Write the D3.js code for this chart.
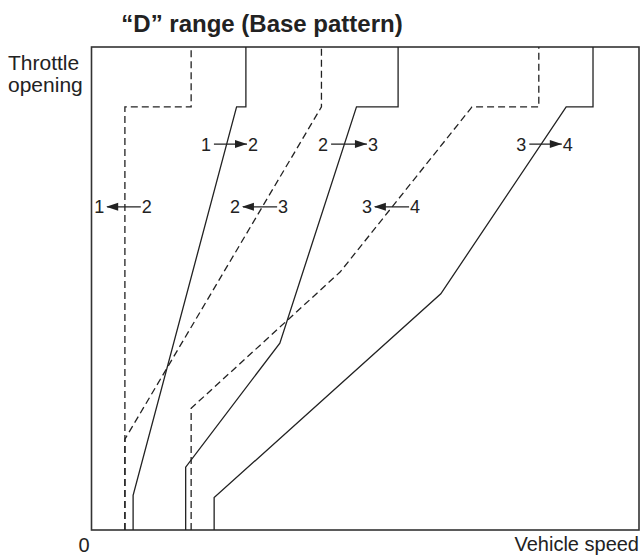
<!DOCTYPE html>
<html><head><meta charset="utf-8">
<script src="https://cdn.jsdelivr.net/npm/d3@7"></script>
<style>body{margin:0;background:#fff}svg{display:block}text{font-family:"Liberation Sans",Arial,sans-serif;fill:#222}</style>
</head><body><svg id="c" width="643" height="557"></svg>
<script>
// Shift lines: [vehicle speed %, throttle opening %]
const up12   = [[7.6,0],[7.6,7.2],[26.5,87.6],[28.2,87.6],[28.2,100]];
const down12 = [[6.1,0],[6.1,87.6],[18.2,87.6],[18.2,100]];
const up23   = [[17.2,0],[17.2,13.0],[34.4,38.7],[48.4,87.6],[56.0,87.6],[56.0,100]];
const down23 = [[6.1,0],[6.1,18.8],[42.0,87.6],[42.0,100]];
const up34   = [[22.4,0],[22.4,6.7],[63.8,48.9],[86.7,87.6],[91.6,87.6],[91.6,100]];
const down34 = [[18.2,0],[18.2,25.2],[45.4,53.4],[69.5,87.6],[81.7,87.6],[81.7,100]];
// Labels: from gear, to gear, first digit speed, second digit speed, throttle
const labelFrom  = ["1","2","3","1","2","3"];
const labelTo    = ["2","3","4","2","3","4"];
const labelUp    = [true,true,true,false,false,false];
const labelX1    = [20.9,42.3,78.5,1.4,26.2,50.3];
const labelX2    = [29.5,51.4,87.0,10.1,35.0,59.1];
const labelY     = [79.9,79.9,79.9,66.9,66.9,66.9];

const svg = d3.select("#c");
const x = d3.scaleLinear().domain([0,100]).range([91.5,639]);
const y = d3.scaleLinear().domain([0,100]).range([530,47]);

// frame
svg.append("rect").attr("x",x(0)).attr("y",y(100)).attr("width",x(100)-x(0)).attr("height",y(0)-y(100))
  .attr("fill","none").attr("stroke","#333").attr("stroke-width",1.6);

const line = d3.line().x(d=>x(d[0])).y(d=>y(d[1]));
const series = [
  {d:up12,dash:false},{d:down12,dash:true},
  {d:up23,dash:false},{d:down23,dash:true},
  {d:up34,dash:false},{d:down34,dash:true}];
svg.selectAll("path.s").data(series).join("path").attr("class","s")
  .attr("d",s=>line(s.d)).attr("fill","none").attr("stroke","#222")
  .attr("stroke-width",1.3).attr("stroke-dasharray",s=>s.dash?"7,4":null);

// labels
labelFrom.forEach((f,i)=>{
  const x1=x(labelX1[i]), x2=x(labelX2[i]), yy=y(labelY[i]);
  const g=svg.append("g");
  g.append("text").attr("x",x1).attr("y",yy+6.5).attr("text-anchor","middle").attr("font-size",18).text(f);
  g.append("text").attr("x",x2).attr("y",yy+6.5).attr("text-anchor","middle").attr("font-size",18).text(labelTo[i]);
  const a=x1+8, b=x2-6;
  g.append("line").attr("x1",a).attr("x2",b).attr("y1",yy).attr("y2",yy).attr("stroke","#222").attr("stroke-width",1.2);
  if(labelUp[i]){
    g.append("path").attr("d",`M${b},${yy}L${b-12},${yy-4}L${b-12},${yy+4}Z`).attr("fill","#222");
  } else {
    g.append("path").attr("d",`M${a-1},${yy}L${a+11},${yy-4}L${a+11},${yy+4}Z`).attr("fill","#222");
  }
});

svg.append("text").attr("x",262).attr("y",32).attr("text-anchor","middle").attr("font-size",24)
  .attr("font-weight","bold").text("\u201CD\u201D range (Base pattern)");
svg.append("text").attr("x",8).attr("y",70).attr("font-size",21).text("Throttle");
svg.append("text").attr("x",8).attr("y",92).attr("font-size",21).text("opening");
svg.append("text").attr("x",84).attr("y",552).attr("text-anchor","middle").attr("font-size",20).text("0");
svg.append("text").attr("x",639).attr("y",551).attr("text-anchor","end").attr("font-size",20).text("Vehicle speed");
</script></body></html>
